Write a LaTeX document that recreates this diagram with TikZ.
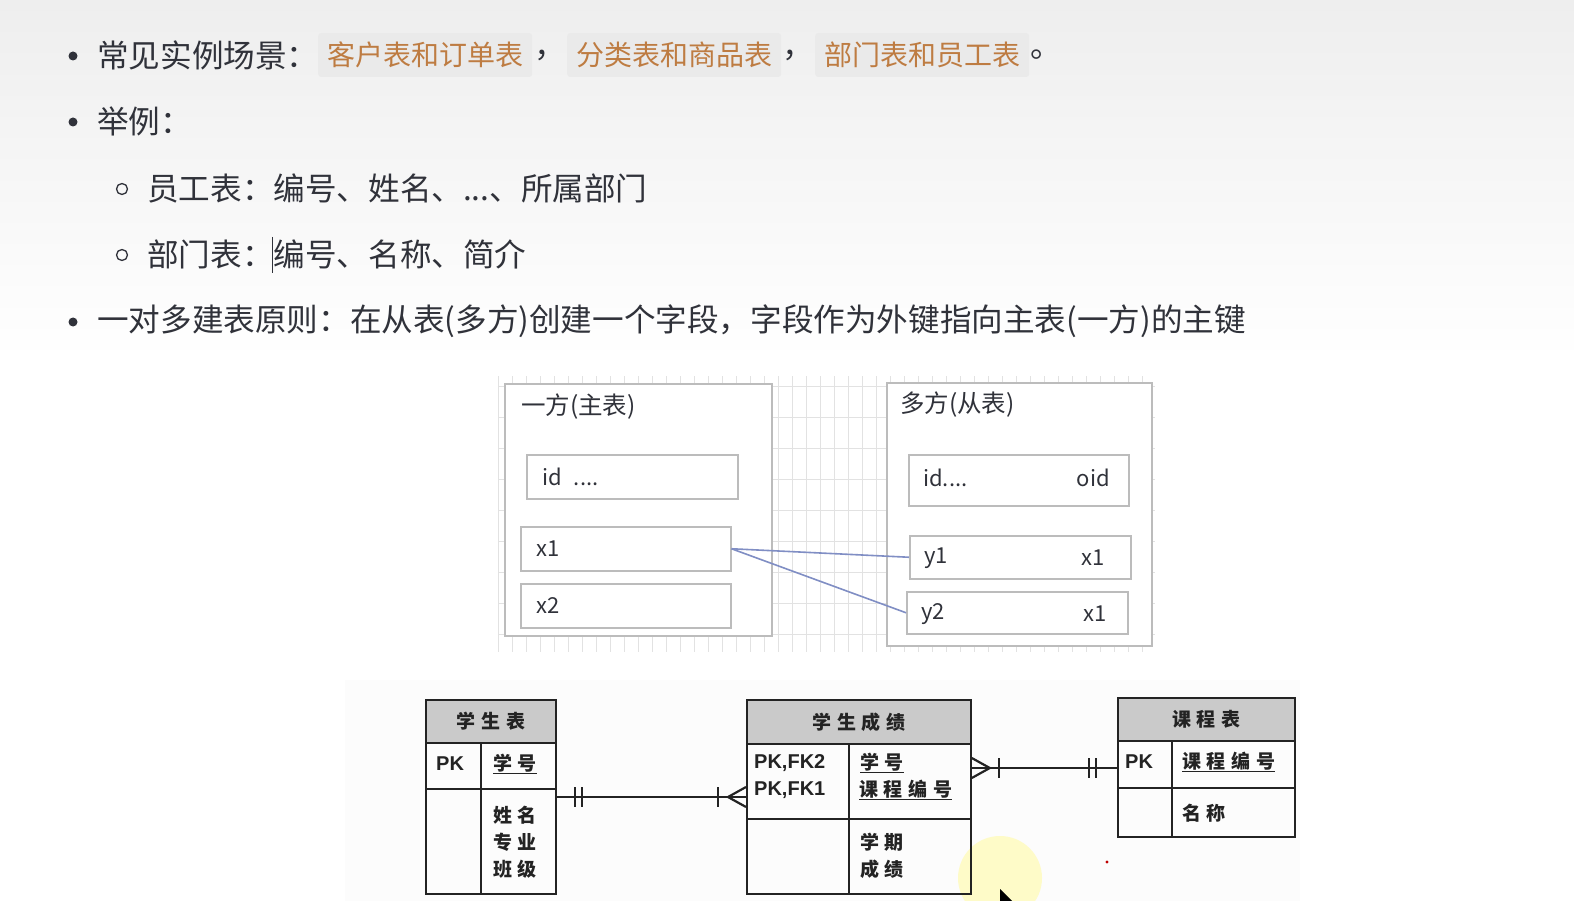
\documentclass[tikz,border=0pt]{standalone}
\usepackage{fontspec}
\setmainfont{Noto Sans CJK SC}
\newfontfamily\cjk{Noto Sans CJK SC}
\newfontfamily\ercjk[LetterSpace=30]{Noto Sans CJK SC}
\newfontfamily\arial{Liberation Sans}
\definecolor{txt}{RGB}{48,50,58}
\definecolor{org}{RGB}{190,124,66}
\definecolor{hl}{RGB}{234,234,234}
\definecolor{gridc}{RGB}{226,226,226}
\definecolor{boxc}{RGB}{188,188,188}
\definecolor{lnkc}{RGB}{128,142,196}
\definecolor{hdr}{RGB}{202,202,202}
\definecolor{erc}{RGB}{35,35,35}
\definecolor{topbg}{RGB}{238,238,238}
\tikzset{
  maintxt/.style={font=\cjk\fontsize{31.6}{36}\selectfont, text=txt, inner sep=0, anchor=west},
  hlbox/.style={fill=hl, rounded corners=3pt, text=org, font=\cjk\fontsize{28}{32}\selectfont, inner xsep=9, inner ysep=0, minimum height=44, anchor=west},
  bdot/.style={circle, fill=txt, inner sep=0, minimum size=9},
  rbul/.style={circle, draw=txt, line width=1.3, inner sep=0, minimum size=11},
  tbox/.style={draw=boxc, fill=white, line width=1.5, anchor=north west, inner sep=0},
  dtxt/.style={font=\cjk\fontsize{22}{24}\selectfont, text=txt, inner sep=0},
  ttxt/.style={font=\cjk\fontsize{24.5}{26}\selectfont, text=txt, inner sep=0, anchor=west},
  lnk/.style={draw=lnkc, line width=1.6},
  ercell/.style={draw=erc, line width=1.8, anchor=north west, inner sep=0},
  erline/.style={draw=erc, line width=1.8},
  erl/.style={draw=erc, line width=2.2},
  erhd/.style={font=\ercjk\bfseries\fontsize{19}{22}\selectfont, text=erc, inner sep=0},
  ercj/.style={font=\ercjk\bfseries\fontsize{19}{27}\selectfont, text=erc, inner sep=0, anchor=west, align=left},
  erpk/.style={font=\arial\bfseries\fontsize{20}{27}\selectfont, text=erc, inner sep=0, anchor=west, align=left},
}
\begin{document}
\begin{tikzpicture}[x=1pt,y=-1pt]
\useasboundingbox (0,0) rectangle (1574,901);
\fill[white] (0,0) rectangle (1574,901);
\shade[top color=topbg, bottom color=white] (0,0) rectangle (1574,360);

% ---------- bullet text ----------
\node[bdot] (d1) at (73,56) {};
\node[maintxt] (t1) at (97,55) {常见实例场景：};
\node[hlbox] (h1) at (318,55) {客户表和订单表};
\node[maintxt] (c1) at (534,55) {，};
\node[hlbox] (h2) at (567,55) {分类表和商品表};
\node[maintxt] (c2) at (782,55) {，};
\node[hlbox] (h3) at (815,55) {部门表和员工表};
\node[maintxt] (c3) at (1030,55) {。};

\node[bdot] (d2) at (73,122) {};
\node[maintxt] (t2) at (97,121) {举例：};

\node[rbul] (r1) at (122,189) {};
\node[maintxt] (t3) at (147,188) {员工表：编号、姓名、...、所属部门};
\node[rbul] (r2) at (122,255) {};
\node[maintxt] (t4) at (147,254) {部门表：编号、名称、简介};
\coordinate (cur1) at (272,237);
\coordinate (cur2) at (272,273);
\draw[txt, line width=0.9] (cur1) -- (cur2);

\node[bdot] (d3) at (73,322) {};
\node[maintxt] (t5) at (97,321) {一对多建表原则：在从表(多方)创建一个字段，字段作为外键指向主表(一方)的主键};

% ---------- middle diagram ----------
\foreach \gx in {498,512,...,1155} \draw[gridc, line width=0.8] (\gx,376) -- (\gx,652);
\foreach \gy in {386,417,...,652} \draw[gridc, line width=0.8] (498,\gy) -- (1155,\gy);

\node[tbox, minimum width=267, minimum height=252] (one) at (504,383) {};
\node[ttxt] (oneT) at (521,407) {一方(主表)};
\node[tbox, minimum width=211, minimum height=44] (oid) at (526,454) {};
\node[dtxt, anchor=west] (oidT) at (542,477) {id\hspace{12pt}....};
\node[tbox, minimum width=210, minimum height=44] (x1) at (520,526) {};
\node[dtxt, anchor=west] (x1T) at (536,549) {x1};
\node[tbox, minimum width=210, minimum height=44] (x2) at (520,583) {};
\node[dtxt, anchor=west] (x2T) at (536,606) {x2};

\node[tbox, minimum width=265, minimum height=263] (many) at (886,382) {};
\node[ttxt] (manyT) at (900,405) {多方(从表)};
\node[tbox, minimum width=220, minimum height=51] (mid) at (908,454) {};
\node[dtxt, anchor=west] (midT) at (923,478) {id....};
\node[dtxt, anchor=east] (midO) at (1110,478) {oid};
\node[tbox, minimum width=221, minimum height=43] (y1) at (909,535) {};
\node[dtxt, anchor=west] (y1T) at (924,558) {y1};
\node[dtxt, anchor=east] (y1R) at (1105,558) {x1};
\node[tbox, minimum width=221, minimum height=42] (y2) at (906,591) {};
\node[dtxt, anchor=west] (y2T) at (921,614) {y2};
\node[dtxt, anchor=east] (y2R) at (1107,614) {x1};

\draw[lnk] (x1.east) -- (y1.west);
\draw[lnk] (x1.east) -- (y2.west);

% ---------- ER diagram ----------
\fill[gray!2] (345,680) rectangle (1300,901);
\fill[yellow!30, opacity=0.7] (1000,878) circle (42);

% student table
\node[ercell, fill=hdr, minimum width=130, minimum height=43] (stuH) at (425,699) {};
\node[ercell, minimum width=130, minimum height=151] (stu) at (425,742) {};
\draw[erline] (481,742) -- (481,893);
\draw[erline] (425,789) -- (555,789);
\node[erhd] (stuHT) at (stuH.center) {学生表};
\node[erpk] (stuPK) at (436,764) {PK};
\node[ercj] (stuK) at (493,764) {\underline{学号}};
\node[ercj] (stuF) at (493,842) {姓名\\专业\\班级};

% grades table
\node[ercell, fill=hdr, minimum width=224, minimum height=44] (grdH) at (746,699) {};
\node[ercell, minimum width=224, minimum height=150] (grd) at (746,743) {};
\draw[erline] (849,743) -- (849,893);
\draw[erline] (746,819) -- (970,819);
\node[erhd] (grdHT) at (grdH.center) {学生成绩};
\node[erpk] (grdPK) at (754,777) {PK,FK2\\PK,FK1};
\node[ercj] (grdK1) at (860,763) {\underline{学号}};
\node[ercj] (grdK2) at (859,790) {\underline{课程编号}};
\node[ercj] (grdF) at (860,856) {学期\\成绩};

% course table
\node[ercell, fill=hdr, minimum width=177, minimum height=43] (crsH) at (1117,697) {};
\node[ercell, minimum width=177, minimum height=96] (crs) at (1117,740) {};
\draw[erline] (1172,740) -- (1172,836);
\draw[erline] (1117,788) -- (1294,788);
\node[erhd] (crsHT) at (crsH.center) {课程表};
\node[erpk] (crsPK) at (1125,762) {PK};
\node[ercj] (crsK) at (1182,762) {\underline{课程编号}};
\node[ercj] (crsF) at (1182,813) {名称};

% connector student -> grades
\coordinate (a1) at (stu.east |- 0,797);
\coordinate (a2) at (grd.west |- 0,797);
\draw[erl] (a1) -- (a2);
\draw[erl] ([xshift=18,yshift=10]a1) -- ([xshift=18,yshift=-10]a1);
\draw[erl] ([xshift=25,yshift=10]a1) -- ([xshift=25,yshift=-10]a1);
\draw[erl] ([xshift=-28,yshift=10]a2) -- ([xshift=-28,yshift=-10]a2);
\draw[erl] ([xshift=-18]a2) -- ([yshift=10]a2);
\draw[erl] ([xshift=-18]a2) -- ([yshift=-10]a2);

% connector grades -> course
\coordinate (b1) at (grd.east |- 0,768);
\coordinate (b2) at (crs.west |- 0,768);
\draw[erl] (b1) -- (b2);
\draw[erl] ([xshift=18]b1) -- ([yshift=10]b1);
\draw[erl] ([xshift=18]b1) -- ([yshift=-10]b1);
\draw[erl] ([xshift=27,yshift=10]b1) -- ([xshift=27,yshift=-10]b1);
\draw[erl] ([xshift=-28,yshift=10]b2) -- ([xshift=-28,yshift=-10]b2);
\draw[erl] ([xshift=-21,yshift=10]b2) -- ([xshift=-21,yshift=-10]b2);

% pointer and dot
\fill[red!75!black] (1107,862) circle (1.6);
\fill[black] (1000,889) -- (1012,901) -- (1000,901) -- cycle;
\end{tikzpicture}
\end{document}
